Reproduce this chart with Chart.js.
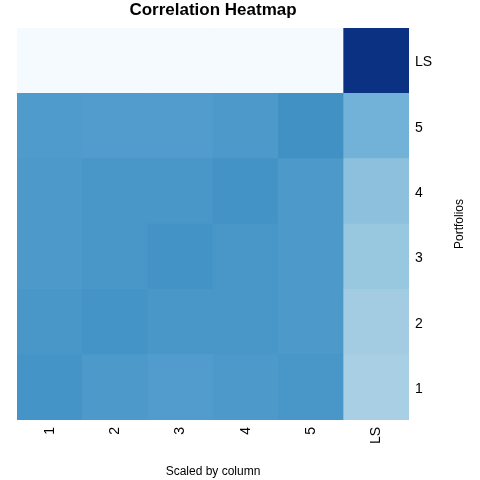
<!DOCTYPE html>
<html>
<head>
<meta charset="utf-8">
<script src="https://cdn.jsdelivr.net/npm/chart.js@4.4.1/dist/chart.umd.min.js"></script>
<style>
  html, body { margin: 0; padding: 0; background: #fff; }
  #wrap { width: 480px; height: 480px; }
</style>
</head>
<body>
<div id="wrap"><canvas id="myChart"></canvas></div>
<script>
// Column and row labels
const columns = ["1", "2", "3", "4", "5", "LS"];
const rows = ["1", "2", "3", "4", "5", "LS"];

// Scaled values (0..1) for each row, one per column
const row1 = [0.615, 0.595, 0.58, 0.59, 0.605, 0.34];
const row2 = [0.605, 0.615, 0.605, 0.605, 0.59, 0.36];
const row3 = [0.59, 0.605, 0.62, 0.605, 0.59, 0.39];
const row4 = [0.59, 0.605, 0.605, 0.62, 0.59, 0.42];
const row5 = [0.585, 0.58, 0.58, 0.59, 0.63, 0.48];
const rowLS = [0.01, 0.01, 0.01, 0.01, 0.01, 1.0];
const rowValues = [row1, row2, row3, row4, row5, rowLS];

// Blues colour ramp
const blues = ["#F7FBFF", "#DEEBF7", "#C6DBEF", "#9ECAE1", "#6BAED6",
               "#4292C6", "#2171B5", "#08519C", "#0B3282"];

function hexToRgb(h) {
  return [parseInt(h.slice(1, 3), 16), parseInt(h.slice(3, 5), 16), parseInt(h.slice(5, 7), 16)];
}

function blueColor(t) {
  t = Math.max(0, Math.min(1, t));
  let pos = t * (blues.length - 1);
  let i = Math.min(Math.floor(pos), blues.length - 2);
  let f = pos - i;
  let a = hexToRgb(blues[i]), b = hexToRgb(blues[i + 1]);
  let c = a.map((v, k) => Math.round(v + (b[k] - v) * f));
  return "rgb(" + c.join(",") + ")";
}

// One floating-bar dataset per row
let datasets = rowValues.map((vals, r) => ({
  label: rows[r],
  data: vals.map(() => [r, r + 1]),
  backgroundColor: vals.map(v => blueColor(v)),
  borderWidth: 0,
  barPercentage: 1,
  categoryPercentage: 1,
  grouped: false,
}));

// Draws the rotated right-hand title
const sideTitle = {
  id: "sideTitle",
  afterDraw(chart) {
    let ctx = chart.ctx;
    let area = chart.chartArea;
    ctx.save();
    ctx.translate(460, (area.top + area.bottom) / 2);
    ctx.rotate(-Math.PI / 2);
    ctx.font = "12px 'Liberation Sans', Arial, sans-serif";
    ctx.fillStyle = "#000";
    ctx.textAlign = "center";
    ctx.textBaseline = "middle";
    ctx.fillText("Portfolios", 0, 0);
    ctx.restore();
  },
};

Chart.defaults.font.family = "'Liberation Sans', Arial, sans-serif";
Chart.defaults.color = "#000";

let ctx = document.getElementById("myChart").getContext("2d");
let myChart = new Chart(ctx, {
  type: "bar",
  data: { labels: columns, datasets: datasets },
  options: {
    responsive: true,
    maintainAspectRatio: false,
    animation: false,
    layout: { padding: { left: 17, right: 0, top: 0, bottom: 0 } },
    plugins: {
      legend: { display: false },
      tooltip: { enabled: false },
      title: { display: false },
    },
    scales: {
      x: {
        type: "category",
        position: "bottom",
        grid: { display: false, drawTicks: false },
        border: { display: false },
        ticks: { minRotation: 90, maxRotation: 90, padding: 7, font: { size: 14 } },
        title: { display: true, text: "Scaled by column", font: { size: 12 }, padding: { top: 0, bottom: 1 } },
        afterFit(scale) { scale.height = 60; },
      },
      xTop: {
        type: "category",
        position: "top",
        labels: columns,
        grid: { display: false, drawTicks: false },
        border: { display: false },
        ticks: { display: false },
        title: { display: true, text: "Correlation Heatmap", font: { size: 17, weight: "bold" }, padding: { top: 0, bottom: 0 } },
        afterFit(scale) { scale.height = 28; },
      },
      y: {
        type: "linear",
        position: "right",
        min: 0,
        max: 6,
        grid: { display: false, drawTicks: false },
        border: { display: false },
        afterBuildTicks(scale) {
          scale.ticks = rows.map((r, i) => ({ value: i + 0.47 }));
        },
        ticks: {
          padding: 6,
          font: { size: 14 },
          callback: (value, index) => rows[index],
        },
        afterFit(scale) { scale.width = 71; },
      },
    },
  },
  plugins: [sideTitle],
});
</script>
</body>
</html>
